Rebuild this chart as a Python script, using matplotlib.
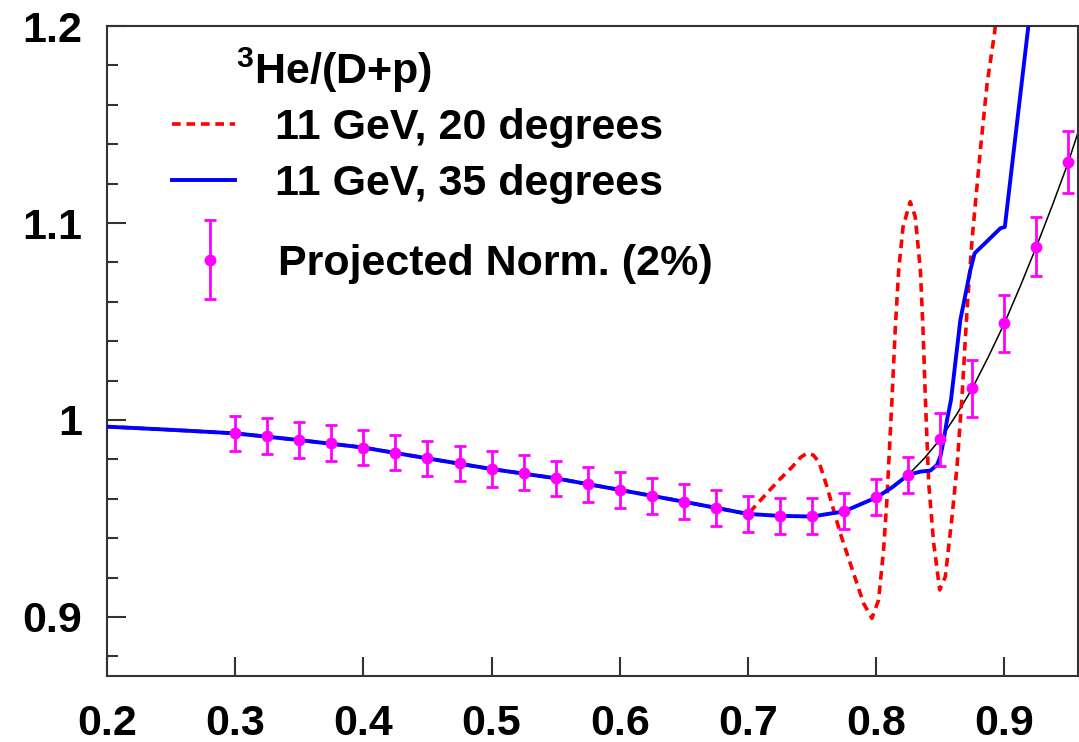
import numpy as np
import matplotlib as mpl
import matplotlib.pyplot as plt
from matplotlib.legend_handler import HandlerErrorbar
from matplotlib.ticker import MultipleLocator

# projected ratio points with errors
x_pts = [0.300, 0.325, 0.350, 0.375, 0.400, 0.425, 0.450, 0.475, 0.500,
         0.525, 0.550, 0.575, 0.600, 0.625, 0.650, 0.675, 0.700, 0.725,
         0.750, 0.775, 0.800, 0.825, 0.850, 0.875, 0.900, 0.925, 0.950]
y_pts = [0.9932, 0.9919, 0.9898, 0.9882, 0.9860, 0.9834, 0.9805, 0.9780, 0.9751,
         0.9733, 0.9704, 0.9673, 0.9645, 0.9614, 0.9585, 0.9552, 0.9523, 0.9513,
         0.9513, 0.9538, 0.9608, 0.9721, 0.9902, 1.0160, 1.0490, 1.0880, 1.1310]
err_pts = [0.009] * 22 + [0.0135, 0.0144, 0.0146, 0.0151, 0.0158]

# fit through the projected points (high x part)
x_fit = [0.775, 0.800, 0.8125, 0.825, 0.8375, 0.850, 0.8625, 0.875, 0.8875,
         0.900, 0.9125, 0.925, 0.9375, 0.950, 0.9575]
y_fit = [0.9536, 0.9606, 0.9658, 0.9721, 0.9805, 0.9902, 1.0025, 1.0160, 1.0320,
         1.0490, 1.0680, 1.0880, 1.1090, 1.1310, 1.1460]

# 11 GeV, 35 degrees
x_35 = [0.20, 0.25, 0.30, 0.35, 0.40, 0.45, 0.50, 0.55, 0.60, 0.65, 0.70,
        0.725, 0.75, 0.775, 0.80, 0.8125, 0.825, 0.8345, 0.8423, 0.8475,
        0.8501, 0.8527, 0.8553, 0.8584, 0.8657, 0.8735, 0.8768, 0.8969,
        0.9004, 0.9187, 0.925]
y_35 = [0.9966, 0.9950, 0.9932, 0.9898, 0.9860, 0.9805, 0.9751, 0.9704, 0.9645,
        0.9585, 0.9523, 0.9513, 0.9510, 0.9536, 0.9606, 0.9658, 0.9721, 0.9738,
        0.9743, 0.9772, 0.9814, 0.9898, 1.0000, 1.0102, 1.0508, 1.0761, 1.0846,
        1.0973, 1.0980, 1.1997, 1.2350]

# 11 GeV, 20 degrees
x_20 = [0.20, 0.25, 0.30, 0.35, 0.40, 0.45, 0.50, 0.55, 0.60, 0.65, 0.70,
        0.705, 0.715, 0.725, 0.735, 0.741, 0.746, 0.751, 0.7555, 0.7616,
        0.772, 0.7824, 0.7902, 0.7967, 0.8019, 0.8058, 0.8084, 0.811, 0.8124,
        0.815, 0.8176, 0.821, 0.8266, 0.8305, 0.8345, 0.8365, 0.8384, 0.841,
        0.8449, 0.8496, 0.854, 0.8592, 0.8631, 0.867, 0.8709, 0.8748, 0.8813,
        0.8865, 0.8925, 0.895]
y_20 = [0.9966, 0.9950, 0.9932, 0.9898, 0.9860, 0.9805, 0.9751, 0.9704, 0.9645,
        0.9585, 0.9523, 0.9558, 0.9630, 0.9700, 0.9765, 0.9810, 0.9831, 0.9822,
        0.9785, 0.9662, 0.9425, 0.9221, 0.9069, 0.8993, 0.9086, 0.9340, 0.9594,
        0.9932, 1.0110, 1.0474, 1.0761, 1.0981, 1.1108, 1.1032, 1.0761, 1.0474,
        1.0110, 0.9679, 0.9374, 0.9137, 0.9205, 0.9509, 0.9763, 1.0120, 1.0558,
        1.0914, 1.1370, 1.1704, 1.1970, 1.2150]

legend_title = '$^{3}$He/(D+p)'
labels = ['11 GeV, 20 degrees', '11 GeV, 35 degrees', 'Projected Norm. (2%)']

mpl.rcParams['font.family'] = 'Liberation Sans'
mpl.rcParams['font.weight'] = 'bold'
mpl.rcParams['mathtext.fontset'] = 'custom'
mpl.rcParams['mathtext.rm'] = 'Liberation Sans:bold'
mpl.rcParams['mathtext.bf'] = 'Liberation Sans:bold'
mpl.rcParams['mathtext.it'] = 'Liberation Sans:bold'
mpl.rcParams['axes.linewidth'] = 1.5
mpl.rcParams['axes.edgecolor'] = '#333333'

fig = plt.figure(figsize=(10.79, 7.42), dpi=100)
ax = fig.add_axes([0.0992, 0.0889, 0.8999, 0.876])

ax.plot(x_fit, y_fit, color='black', lw=1.1, zorder=1)
red, = ax.plot(x_20, y_20, color='red', lw=2.6, ls=(0, (2.4, 1.6)), zorder=2)
blue, = ax.plot(x_35, y_35, color='blue', lw=2.8, zorder=3)
err = ax.errorbar(x_pts, y_pts, yerr=err_pts, fmt='o', color='magenta', ms=7.5,
                  elinewidth=2, capsize=4.5, capthick=2, zorder=4)

ax.set_xlim(0.2, 0.9575)
ax.set_ylim(0.87, 1.2)
ax.xaxis.set_major_locator(MultipleLocator(0.1))
ax.yaxis.set_major_locator(MultipleLocator(0.1))
ax.yaxis.set_minor_locator(MultipleLocator(0.02))
ax.xaxis.set_major_formatter(mpl.ticker.FormatStrFormatter('%g'))
ax.yaxis.set_major_formatter(mpl.ticker.FormatStrFormatter('%g'))
ax.tick_params(axis='both', which='both', direction='in', color='#333333', width=1.5)
ax.tick_params(axis='y', which='major', length=14, pad=18, labelsize=31)
ax.tick_params(axis='y', which='minor', length=8)
ax.tick_params(axis='x', which='major', length=14, pad=20, labelsize=31)

ax.text(0.133, 0.932, legend_title, transform=ax.transAxes, ha='left', va='center',
        fontsize=31, fontweight='bold')

leg1 = ax.legend([red, blue], labels[:2], loc='center left', bbox_to_anchor=(0.0669, 0.80),
                 frameon=False, fontsize=31, borderpad=0, borderaxespad=0,
                 handlelength=1.47, handletextpad=0.93, labelspacing=0.36)
ax.add_artist(leg1)
ax.legend([err], labels[2:], loc='center left', bbox_to_anchor=(0.0736, 0.634),
          frameon=False, fontsize=31, borderpad=0, borderaxespad=0,
          handlelength=1.47, handletextpad=0.83, numpoints=1,
          handler_map={type(err): HandlerErrorbar(yerr_size=0.92)})

fig.savefig('out.png', dpi=100)
plt.close(fig)
